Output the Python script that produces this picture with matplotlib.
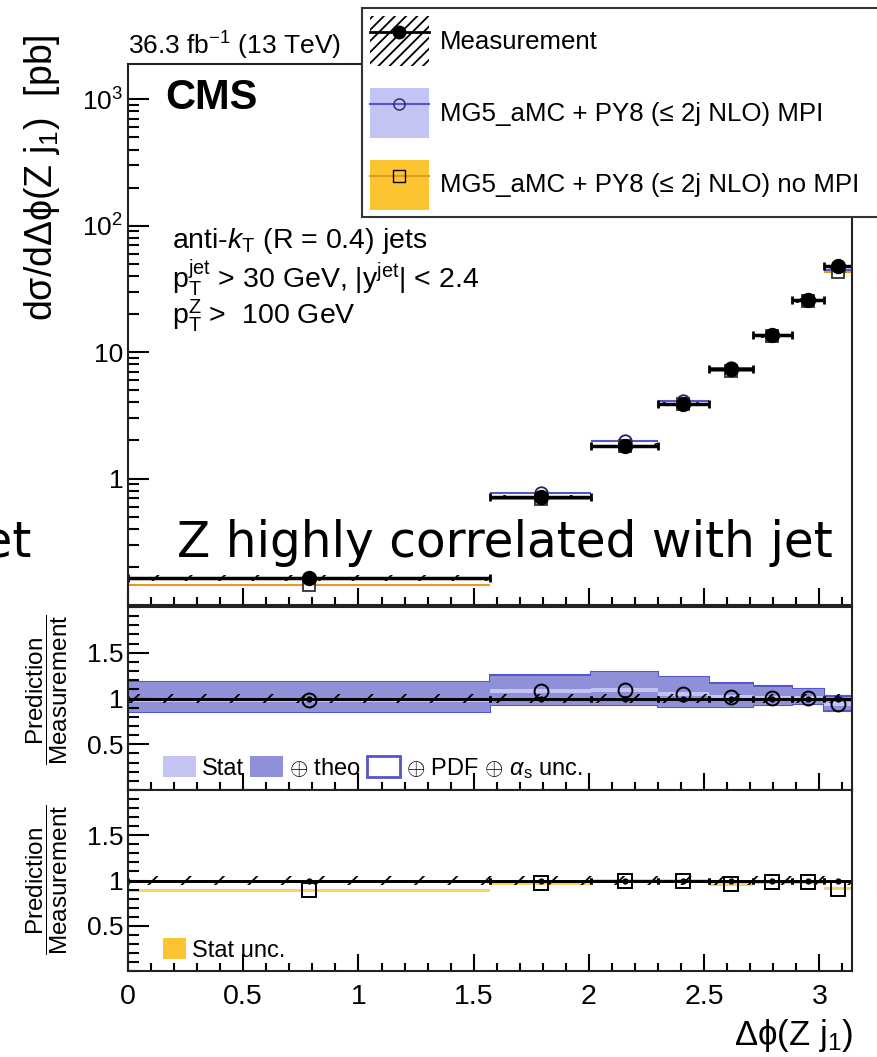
import matplotlib
matplotlib.use('Agg')
import matplotlib.pyplot as plt
import numpy as np
from matplotlib.patches import Patch
from matplotlib.lines import Line2D
from matplotlib.ticker import FixedLocator, MultipleLocator, LogLocator, NullFormatter

plt.rcParams['font.family'] = ['Liberation Sans', 'DejaVu Sans']
plt.rcParams['mathtext.fontset'] = 'custom'
plt.rcParams['mathtext.rm'] = 'Liberation Sans'
plt.rcParams['mathtext.it'] = 'Liberation Sans:italic'
plt.rcParams['mathtext.bf'] = 'Liberation Sans:bold'
plt.rcParams['hatch.linewidth'] = 1.3

# --- data ---
edges = [0.0, 1.571, 2.01, 2.30, 2.52, 2.71, 2.88, 3.02, 3.1416]
meas = [0.163, 0.71, 1.82, 3.9, 7.35, 13.6, 25.7, 47.7]      # pb
meas_unc = [0.05, 0.045, 0.045, 0.045, 0.045, 0.045, 0.045, 0.05]  # relative

ratio_mpi = [0.98, 1.08, 1.09, 1.05, 1.02, 1.01, 1.01, 0.94]
mpi_stat = [0.015, 0.02, 0.02, 0.02, 0.02, 0.02, 0.02, 0.02]
mpi_theo_lo = [0.855, 0.93, 0.93, 0.91, 0.91, 0.93, 0.94, 0.87]
mpi_theo_hi = [1.18, 1.25, 1.29, 1.235, 1.16, 1.13, 1.10, 1.02]
mpi_pdf_lo = [0.85, 0.925, 0.925, 0.905, 0.905, 0.925, 0.935, 0.865]
mpi_pdf_hi = [1.185, 1.255, 1.295, 1.24, 1.165, 1.135, 1.105, 1.025]

ratio_nompi = [0.89, 0.97, 1.0, 1.0, 0.96, 0.98, 0.98, 0.91]
nompi_stat = [0.012, 0.02, 0.015, 0.015, 0.02, 0.015, 0.015, 0.015]

edges = np.array(edges)
centers = 0.5 * (edges[1:] + edges[:-1])
widths = np.diff(edges)
meas = np.array(meas)
meas_unc = np.array(meas_unc)
mpi = meas * np.array(ratio_mpi)
nompi = meas * np.array(ratio_nompi)

blue_light = '#c4c4f4'
blue_dark = '#9090d8'
blue_line = '#5555cc'
yellow = '#fcc430'
orange_line = '#e49a1c'

W, H = 877, 1057
fig = plt.figure(figsize=(W / 100, H / 100), dpi=100)


def fx(x):
    return x / W


def fy(y):
    return 1 - y / H


ax1 = fig.add_axes([fx(128), fy(605), fx(852) - fx(128), fy(64) - fy(605)])
ax2 = fig.add_axes([fx(128), fy(790), fx(852) - fx(128), fy(607) - fy(790)], sharex=ax1)
ax3 = fig.add_axes([fx(128), fy(971), fx(852) - fx(128), fy(790) - fy(971)], sharex=ax1)

# --- top panel ---
ax1.set_yscale('log')
ax1.bar(centers, mpi * 2 * np.array(mpi_stat), bottom=mpi * (1 - np.array(mpi_stat)),
        width=widths, color=blue_light, lw=0)
ax1.hlines(mpi, edges[:-1], edges[1:], color=blue_line, lw=1.5)
ax1.bar(centers, nompi * 2 * np.array(nompi_stat), bottom=nompi * (1 - np.array(nompi_stat)),
        width=widths, color=yellow, lw=0)
ax1.hlines(nompi, edges[:-1], edges[1:], color=orange_line, lw=1.5)
ax1.plot(centers, mpi, ls='none', marker='o', mfc='none', mec='#222266', ms=9, mew=1.3)
ax1.plot(centers, nompi, ls='none', marker='s', mfc='white', mec='#333333', ms=9, mew=1.3)
ax1.bar(centers, meas * 2 * meas_unc, bottom=meas * (1 - meas_unc), width=widths,
        fill=False, hatch='/', edgecolor='black', lw=0)
ax1.errorbar(centers, meas, xerr=widths / 2, fmt='o', color='black', ms=10,
             lw=2.5, capsize=3, capthick=2)

ax1.set_xlim(0, np.pi)
ax1.set_ylim(0.1, 1900)
ax1.yaxis.set_major_locator(FixedLocator([1, 10, 100, 1000]))
ax1.set_yticklabels(['1', '10', '$10^2$', '$10^3$'])
ax1.yaxis.set_minor_locator(LogLocator(base=10, subs=np.arange(2, 10)))
ax1.yaxis.set_minor_formatter(NullFormatter())

# --- middle ratio panel ---
ax2.bar(centers, np.array(mpi_pdf_hi) - np.array(mpi_pdf_lo), bottom=mpi_pdf_lo, width=widths,
        facecolor='none', edgecolor=blue_line, lw=1.5)
ax2.bar(centers, np.array(mpi_theo_hi) - np.array(mpi_theo_lo), bottom=mpi_theo_lo, width=widths,
        color=blue_dark, lw=0)
ax2.bar(centers, 2 * np.array(mpi_stat), bottom=np.array(ratio_mpi) - np.array(mpi_stat),
        width=widths, color=blue_light, lw=0)

# --- bottom ratio panel ---
ax3.bar(centers, 2 * np.array(nompi_stat), bottom=np.array(ratio_nompi) - np.array(nompi_stat),
        width=widths, color=yellow, lw=0, alpha=0.75)

for ax in (ax2, ax3):
    ax.bar(centers, 2 * meas_unc, bottom=1 - meas_unc, width=widths,
           fill=False, hatch='/', edgecolor='black', lw=0)
    ax.axhline(1, color='black', lw=2)
    ax.errorbar(centers, np.ones_like(centers), xerr=widths / 2, fmt='o', color='black',
                ms=3.5, lw=2, capsize=2.5, capthick=2)
    ax.set_ylim(0, 2)
    ax.yaxis.set_major_locator(FixedLocator([0.5, 1, 1.5]))
    ax.set_yticklabels(['0.5', '1', '1.5'])
    ax.yaxis.set_minor_locator(MultipleLocator(0.1))

ax2.plot(centers, ratio_mpi, ls='none', marker='o', mfc='none', mec='black', ms=10, mew=1.4)
ax3.plot(centers, ratio_nompi, ls='none', marker='s', mfc='none', mec='black', ms=10, mew=1.4)

for ax in (ax1, ax2, ax3):
    ax.xaxis.set_major_locator(MultipleLocator(0.5))
    ax.xaxis.set_minor_locator(MultipleLocator(0.1))
    ax.tick_params(which='both', direction='in', top=False, right=False, width=1.5,
                   labelsize=19)
    ax.tick_params(axis='y', which='major', length=15)
    ax.tick_params(axis='y', which='minor', length=8)
    ax.tick_params(axis='x', which='major', length=12)
    ax.tick_params(axis='x', which='minor', length=6)
    for s in ax.spines.values():
        s.set_linewidth(1.5)
        s.set_color('#222222')

ax1.tick_params(labelbottom=False)
ax2.tick_params(labelbottom=False)
ax3.set_xticks([0, 0.5, 1, 1.5, 2, 2.5, 3])
ax3.set_xticklabels(['0', '0.5', '1', '1.5', '2', '2.5', '3'])
ax3.tick_params(axis='x', labelsize=20.5, pad=9)

# ratio legends
ax2.legend(handles=[Patch(facecolor=blue_light, lw=0), Patch(facecolor=blue_dark, lw=0),
                    Patch(facecolor='white', edgecolor=blue_line, lw=2)],
           labels=['Stat', '$\\oplus$ theo', '$\\oplus$ PDF $\\oplus$ $\\alpha_\\mathrm{s}$ unc.'],
           ncol=3, loc='lower left', bbox_to_anchor=(0.035, 0.0), frameon=False,
           fontsize=17, handlelength=1.4, handleheight=1.0, handletextpad=0.25,
           columnspacing=0.25, borderaxespad=0.2, borderpad=0.2)
ax3.legend(handles=[Patch(facecolor=yellow, lw=0)], labels=['Stat unc.'],
           loc='lower left', bbox_to_anchor=(0.035, 0.0), frameon=False,
           fontsize=17, handlelength=1.0, handleheight=1.0, handletextpad=0.25,
           borderaxespad=0.2, borderpad=0.2)

# main legend
h_meas = (Patch(facecolor='none', edgecolor='black', hatch='///', lw=0),
          Line2D([], [], color='black', marker='o', ms=9, lw=2))
h_mpi = (Patch(facecolor=blue_light, lw=0),
         Line2D([], [], color=blue_line, marker='o', mfc='none', mec='#222266', ms=8, lw=1.5))
h_nompi = (Patch(facecolor=yellow, lw=0),
           Line2D([], [], color=orange_line, marker='s', mfc='none', mec='black', ms=8, lw=1.5))
leg = fig.legend([h_meas, h_mpi, h_nompi],
                 ['Measurement', 'MG5_aMC + PY8 (\u2264 2j NLO) MPI',
                  'MG5_aMC + PY8 (\u2264 2j NLO) no MPI'],
                 loc='upper left', bbox_to_anchor=(fx(362), fy(8), 0.62, 0), mode='expand',
                 fontsize=18.6, handlelength=2.3, handleheight=2.6, handletextpad=0.4,
                 labelspacing=0.85, borderpad=0.3, borderaxespad=0, fancybox=False,
                 framealpha=1, edgecolor='#333333')
leg.get_frame().set_linewidth(1.5)

# texts
fig.text(fx(128), fy(55), '36.3 fb$^{-1}$ (13 TeV)', fontsize=19, ha='left', va='baseline')
fig.text(fx(165), fy(98), 'CMS', fontsize=30, fontweight='bold', ha='left', va='center')
fig.text(fx(172), fy(241), 'anti-$\\mathit{k}_\\mathrm{T}$ (R = 0.4) jets', fontsize=20.5,
         ha='left', va='center')
fig.text(fx(172), fy(278), '$\\mathrm{p}_\\mathrm{T}^\\mathrm{jet}$ > 30 GeV, |$\\mathrm{y}^\\mathrm{jet}$| < 2.4',
         fontsize=20.5, ha='left', va='center')
fig.text(fx(172), fy(316), '$\\mathrm{p}_\\mathrm{T}^\\mathrm{Z}$ >  100 GeV', fontsize=20.5,
         ha='left', va='center')

fig.text(fx(42), fy(178), 'd\u03c3/d\u0394\u03d5(Z j$_\\mathrm{1}$)  [pb]', rotation=90,
         fontsize=27, ha='center', va='center')
fig.text(fx(47), fy(690), '$\\dfrac{\\mathrm{Prediction}}{\\mathrm{Measurement}}$', rotation=90,
         fontsize=17.5, ha='center', va='center')
fig.text(fx(47), fy(880), '$\\dfrac{\\mathrm{Prediction}}{\\mathrm{Measurement}}$', rotation=90,
         fontsize=17.5, ha='center', va='center')
fig.text(fx(853), fy(1035), '\u0394\u03d5(Z j$_\\mathrm{1}$)', fontsize=25, ha='right', va='center')

fig.text(fx(833), fy(557), 'Z highly correlated with jet', family='DejaVu Sans', fontsize=35,
         ha='right', va='baseline')
fig.text(fx(32), fy(557), 'jet', family='DejaVu Sans', fontsize=35, ha='right', va='baseline')

fig.savefig('out.png', dpi=100)
